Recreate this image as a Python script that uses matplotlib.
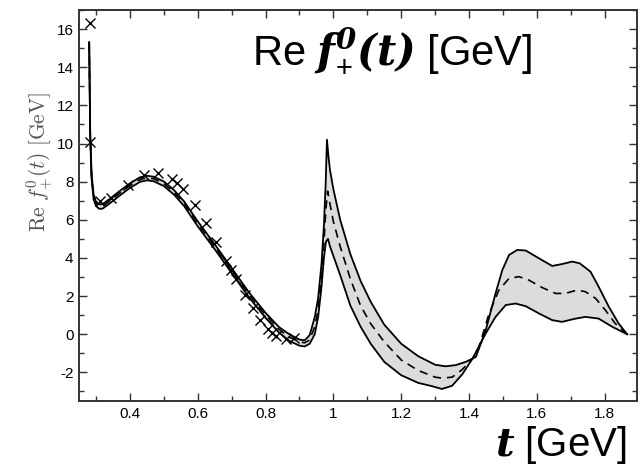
import matplotlib
matplotlib.use("Agg")
import matplotlib.pyplot as plt
import numpy as np
from matplotlib.ticker import FixedLocator, MultipleLocator

plt.rcParams['mathtext.fontset'] = 'custom'
plt.rcParams['mathtext.bf'] = 'DejaVu Serif:italic:bold'
plt.rcParams['mathtext.rm'] = 'Liberation Sans'
plt.rcParams['font.family'] = ['Liberation Sans', 'DejaVu Sans']

# ---- data ----
t_left = [0.280, 0.283, 0.287, 0.293, 0.300, 0.310, 0.320, 0.340, 0.370, 0.400,
          0.430, 0.450, 0.470, 0.500, 0.530, 0.560, 0.600, 0.650, 0.700, 0.750,
          0.800, 0.840, 0.870]
central_left = [15.3, 10.5, 8.3, 7.2, 6.85, 6.70, 6.72, 6.98, 7.40, 7.80,
                8.12, 8.20, 8.15, 7.90, 7.45, 6.85, 5.80, 4.60, 3.35, 2.10,
                1.00, 0.25, -0.15]
upper_left = [15.3, 10.6, 8.42, 7.32, 6.96, 6.81, 6.83, 7.09, 7.51, 7.91,
              8.23, 8.31, 8.26, 8.01, 7.56, 6.96, 5.92, 4.72, 3.47, 2.22,
              1.12, 0.37, 0.00]
lower_left = [15.3, 10.4, 8.18, 7.08, 6.72, 6.57, 6.59, 6.85, 7.27, 7.67,
              7.99, 8.07, 8.02, 7.77, 7.32, 6.72, 5.66, 4.46, 3.21, 1.96,
              0.86, 0.08, -0.35]

t_upper = [0.900, 0.915, 0.930, 0.945, 0.955, 0.965, 0.972, 0.977, 0.981, 0.985,
           0.990, 1.000, 1.020, 1.050, 1.080, 1.110, 1.150, 1.200, 1.250, 1.300,
           1.330, 1.360, 1.390, 1.410, 1.420, 1.449, 1.478, 1.498, 1.518, 1.542,
           1.567, 1.606, 1.645, 1.674, 1.704, 1.726, 1.758, 1.782, 1.812, 1.841,
           1.866]
f_upper = [-0.28, -0.32, -0.05, 0.90, 1.90, 3.70, 5.70, 7.80, 10.2, 9.40,
           8.60, 7.60, 6.00, 4.20, 2.80, 1.70, 0.50, -0.50, -1.15, -1.60,
           -1.68, -1.62, -1.45, -1.28, -1.19, 0.21, 2.14, 3.37, 4.16, 4.42,
           4.39, 3.98, 3.58, 3.68, 3.81, 3.72, 3.28, 2.49, 1.44, 0.56,
           0.00]

t_central = [0.900, 0.915, 0.930, 0.945, 0.955, 0.965, 0.972, 0.978, 0.983, 0.988,
             1.000, 1.020, 1.050, 1.080, 1.110, 1.150, 1.200, 1.250, 1.300, 1.320,
             1.350, 1.380, 1.410, 1.429, 1.459, 1.488, 1.518, 1.547, 1.576, 1.615,
             1.655, 1.684, 1.719, 1.743, 1.773, 1.802, 1.831, 1.866]
f_central = [-0.40, -0.45, -0.30, 0.40, 1.30, 3.00, 4.80, 6.60, 7.50, 7.00,
             5.90, 4.60, 2.90, 1.50, 0.55, -0.40, -1.35, -1.90, -2.25, -2.30,
             -2.25, -1.85, -1.28, -0.67, 1.09, 2.32, 2.93, 3.02, 2.84, 2.45,
             2.14, 2.14, 2.32, 2.23, 1.88, 1.26, 0.56, 0.00]

t_lower = [0.900, 0.915, 0.930, 0.945, 0.955, 0.965, 0.972, 0.978, 0.984, 0.990,
           1.000, 1.020, 1.050, 1.080, 1.110, 1.150, 1.200, 1.250, 1.290, 1.320,
           1.350, 1.380, 1.410, 1.449, 1.478, 1.508, 1.537, 1.567, 1.606, 1.645,
           1.674, 1.714, 1.743, 1.782, 1.822, 1.866]
f_lower = [-0.60, -0.64, -0.50, 0.00, 0.90, 2.50, 4.00, 4.85, 5.00, 4.60,
           4.10, 3.10, 1.50, 0.40, -0.50, -1.45, -2.15, -2.55, -2.72, -2.87,
           -2.70, -2.10, -1.28, 0.04, 0.91, 1.53, 1.61, 1.47, 1.09, 0.74,
           0.65, 0.82, 0.91, 0.82, 0.39, 0.00]

t_data = [0.282, 0.283, 0.311, 0.343, 0.395, 0.442, 0.483, 0.523, 0.540, 0.557,
          0.591, 0.623, 0.653, 0.684, 0.697, 0.712, 0.738, 0.763, 0.785, 0.807,
          0.820, 0.831, 0.859, 0.883]
f_data = [16.3, 10.1, 6.96, 7.14, 7.84, 8.33, 8.46, 8.16, 7.93, 7.61,
          6.79, 5.82, 4.83, 3.84, 3.37, 2.89, 2.05, 1.35, 0.74, 0.30,
          0.09, -0.09, -0.23, -0.19]

xticks = [0.4, 0.6, 0.8, 1.0, 1.2, 1.4, 1.6, 1.8]
xticklabels = ["0.4", "0.6", "0.8", "1", "1.2", "1.4", "1.6", "1.8"]
yticks = [-2, 0, 2, 4, 6, 8, 10, 12, 14, 16]
yticklabels = ["-2", "0", "2", "4", "6", "8", "10", "12", "14", "16"]

# ---- assemble curves ----
tu = np.concatenate([t_left, t_upper]); fu = np.concatenate([upper_left, f_upper])
tc = np.concatenate([t_left, t_central]); fc = np.concatenate([central_left, f_central])
tl = np.concatenate([t_left, t_lower]); fl = np.concatenate([lower_left, f_lower])

# ---- figure ----
W, H = 641, 467
fig = plt.figure(figsize=(W / 100, H / 100), dpi=100)
ax = fig.add_axes([79 / W, 1 - 401 / H, (637 - 79) / W, (401 - 10) / H])

ax.fill(np.concatenate([tu, tl[::-1]]), np.concatenate([fu, fl[::-1]]),
        color='#dcdcdc', lw=0, zorder=1)
ax.plot(tu, fu, color='black', lw=1.3, zorder=3)
ax.plot(tl, fl, color='black', lw=1.3, zorder=3)
ax.plot(tc, fc, color='black', lw=1.2, ls=(0, (5, 3.5)), zorder=4)
ax.plot(t_data, f_data, ls='none', marker='x', ms=7, mew=1.0, color='black', zorder=5)

ax.set_xlim(0.25, 1.895)
ax.set_ylim(-3.5, 17)

ax.xaxis.set_major_locator(FixedLocator(xticks))
ax.set_xticklabels(xticklabels)
ax.yaxis.set_major_locator(FixedLocator(yticks))
ax.set_yticklabels(yticklabels)
ax.xaxis.set_minor_locator(MultipleLocator(0.1))
ax.yaxis.set_minor_locator(MultipleLocator(1))
ax.tick_params(which='both', direction='in', top=True, right=True, color='#333333',
               labelsize=11, pad=4)
ax.tick_params(which='major', length=6, width=1.0)
ax.tick_params(which='minor', length=3.5, width=1.0)
for s in ax.spines.values():
    s.set_color('#333333')
    s.set_linewidth(1.4)

# big labels
fig.text(252 / W, 1 - 63 / H, r"Re $\mathbf{f}_{+}^{\mathbf{0}}\mathbf{(t)}$ [GeV]",
         fontsize=30, ha='left', va='baseline', math_fontfamily='custom')
fig.text(627 / W, 1 - 456 / H, r"$\mathbf{t}$ [GeV]",
         fontsize=29, ha='right', va='baseline', math_fontfamily='custom')
fig.text(40 / W, 1 - 162 / H, r"$\mathrm{Re}\ f_{+}^{0}(t)\ [\mathrm{GeV}]$",
         fontsize=15.5, rotation=90, ha='center', va='center', color='#555555',
         math_fontfamily='cm')

fig.savefig("out.png", dpi=100)
